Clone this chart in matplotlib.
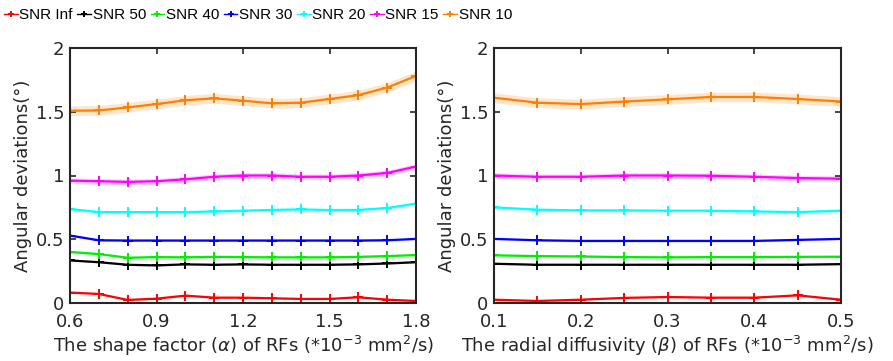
import numpy as np
import matplotlib
matplotlib.use("Agg")
import matplotlib.pyplot as plt

alpha_x = [0.6, 0.7, 0.8, 0.9, 1.0, 1.1, 1.2, 1.3, 1.4, 1.5, 1.6, 1.7, 1.8]
beta_x = [0.1, 0.15, 0.2, 0.25, 0.3, 0.35, 0.4, 0.45, 0.5]

labels = ["SNR Inf", "SNR 50", "SNR 40", "SNR 30", "SNR 20", "SNR 15", "SNR 10"]
colors = ["#ff0000", "#000000", "#00ee00", "#0000ff", "#00ffff", "#ff00ff", "#ff7f00"]

alpha_inf = [0.082, 0.071, 0.024, 0.034, 0.058, 0.042, 0.042, 0.037, 0.032, 0.032, 0.045, 0.026, 0.016]
alpha_50 = [0.334, 0.32, 0.30, 0.295, 0.303, 0.30, 0.303, 0.30, 0.30, 0.30, 0.303, 0.31, 0.32]
alpha_40 = [0.40, 0.384, 0.355, 0.36, 0.358, 0.362, 0.36, 0.358, 0.358, 0.358, 0.362, 0.368, 0.376]
alpha_30 = [0.529, 0.492, 0.49, 0.49, 0.49, 0.49, 0.49, 0.49, 0.49, 0.49, 0.49, 0.492, 0.503]
alpha_20 = [0.737, 0.713, 0.713, 0.713, 0.713, 0.718, 0.724, 0.73, 0.734, 0.729, 0.73, 0.745, 0.78]
alpha_15 = [0.96, 0.955, 0.95, 0.955, 0.97, 0.99, 1.0, 1.0, 0.99, 0.99, 1.0, 1.02, 1.07]
alpha_10 = [1.508, 1.51, 1.534, 1.56, 1.59, 1.605, 1.587, 1.566, 1.571, 1.60, 1.63, 1.69, 1.78]

beta_inf = [0.026, 0.016, 0.026, 0.04, 0.047, 0.042, 0.042, 0.06, 0.026]
beta_50 = [0.308, 0.30, 0.30, 0.30, 0.30, 0.30, 0.30, 0.30, 0.305]
beta_40 = [0.374, 0.368, 0.365, 0.36, 0.358, 0.36, 0.36, 0.362, 0.363]
beta_30 = [0.503, 0.492, 0.487, 0.487, 0.487, 0.487, 0.487, 0.495, 0.503]
beta_20 = [0.75, 0.732, 0.726, 0.726, 0.724, 0.724, 0.718, 0.713, 0.724]
beta_15 = [1.0, 0.99, 0.99, 1.0, 1.0, 0.998, 0.99, 0.98, 0.975]
beta_10 = [1.61, 1.571, 1.56, 1.58, 1.597, 1.616, 1.616, 1.60, 1.58]

band_width = [0.006, 0.006, 0.006, 0.008, 0.01, 0.022, 0.038]

alpha_series = [alpha_inf, alpha_50, alpha_40, alpha_30, alpha_20, alpha_15, alpha_10]
beta_series = [beta_inf, beta_50, beta_40, beta_30, beta_20, beta_15, beta_10]

plt.rcParams['font.family'] = ['DejaVu Sans']
plt.rcParams['mathtext.fontset'] = 'dejavusans'

fig = plt.figure(figsize=(8.93, 3.61), dpi=100)
ax1 = fig.add_axes([70/893, 1-303/361, 346/893, 255/361])
ax2 = fig.add_axes([494/893, 1-303/361, 347/893, 255/361])

def draw(ax, x, series, xticks, xlabel):
    handles = []
    for s, c, w, lab in zip(series, colors, band_width, labels):
        s = np.array(s)
        ax.fill_between(x, s - w, s + w, color=c, alpha=0.2, linewidth=0)
        h, = ax.plot(x, s, color=c, marker='+', markersize=7, linewidth=1.6,
                     markeredgewidth=1.4, label=lab)
        handles.append(h)
    ax.set_xlim(x[0], x[-1])
    ax.set_ylim(0, 2)
    ax.set_xticks(xticks)
    ax.set_xticklabels([f"{t:g}" for t in xticks])
    ax.set_yticks([0, 0.5, 1, 1.5, 2])
    ax.set_yticklabels(["0", "0.5", "1", "1.5", "2"])
    ax.tick_params(direction='in', top=True, right=True, labelsize=13, length=4,
                   width=1.2, colors='#262626')
    ax.tick_params(axis='x', pad=7)
    ax.tick_params(axis='y', pad=4)
    for sp in ax.spines.values():
        sp.set_linewidth(1.5)
        sp.set_color('#262626')
    ax.set_xlabel(xlabel, fontsize=13, color='#262626', labelpad=2)
    ax.set_ylabel("Angular deviations(°)", fontsize=13, color='#262626', labelpad=3)
    return handles

h = draw(ax1, alpha_x, alpha_series, [0.6, 0.9, 1.2, 1.5, 1.8],
         r"The shape factor ($\alpha$) of RFs (*10$^{-3}$ mm$^{2}$/s)")
draw(ax2, beta_x, beta_series, [0.1, 0.2, 0.3, 0.4, 0.5],
     r"The radial diffusivity ($\beta$) of RFs (*10$^{-3}$ mm$^{2}$/s)")

leg = fig.legend(handles=h, labels=labels, loc='center', bbox_to_anchor=(258/893, 1-15/361),
                 ncol=7, frameon=False, prop={'family': 'Liberation Sans', 'size': 11},
                 handlelength=0.9, handletextpad=0.1, columnspacing=0.3,
                 borderpad=0, markerscale=0.7)
for line in leg.get_lines():
    line.set_linewidth(1.0)

fig.savefig("out.png", dpi=100)
